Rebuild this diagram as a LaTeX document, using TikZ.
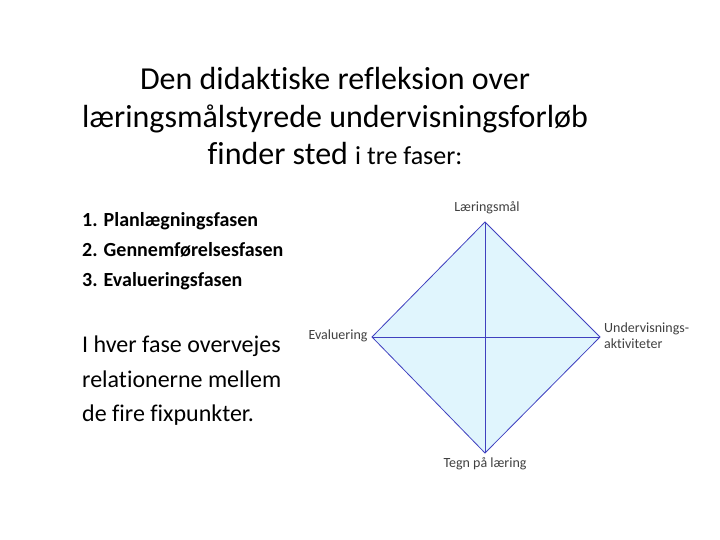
\documentclass[tikz,border=0pt]{standalone}
\usepackage{fontspec}
\setmainfont[Ligatures=NoCommon]{Carlito}
\begin{document}
\begin{tikzpicture}[x=1pt,y=-1pt,
  lbl/.style={font=\fontsize{14}{16}\selectfont,text=black!75,inner sep=0},
  ttl/.style={font=\fontsize{32}{36}\selectfont,inner sep=0,anchor=base},
  lst/.style={anchor=base west,inner sep=0}]
\useasboundingbox (0,0) rectangle (720,540);
\coordinate (T) at (485,222);
\coordinate (R) at (600,337);
\coordinate (B) at (485,453);
\coordinate (L) at (372,337);
\draw[fill=cyan!12!white,draw=blue!50!gray,line width=0.8pt] (T)--(R)--(B)--(L)--cycle;
\draw[blue!50!gray,line width=0.8pt] (T)--(B) (L)--(R);
\node[ttl] (t1) at (335,90) {Den didaktiske refleksion over};
\node[ttl] (t2) at (335,128) {læringsmålstyrede undervisningsforløb};
\node[ttl] (t3) at (335,165) {finder sted {\fontsize{26}{30}\selectfont i tre faser:}};
\node[lst,font=\bfseries\fontsize{20}{24}\selectfont] (l1) at (82,226) {1. Planlægningsfasen};
\node[lst,font=\bfseries\fontsize{20}{24}\selectfont] (l2) at (82,256) {2. Gennemførelsesfasen};
\node[lst,font=\bfseries\fontsize{20}{24}\selectfont] (l3) at (82,286) {3. Evalueringsfasen};
\node[lst,font=\fontsize{24}{28}\selectfont] (p1) at (82,352) {I hver fase overvejes};
\node[lst,font=\fontsize{24}{28}\selectfont] (p2) at (82,387) {relationerne mellem};
\node[lst,font=\fontsize{24}{28}\selectfont] (p3) at (82,421) {de fire fixpunkter.};
\node[lbl] (a) at (487,208) {Læringsmål};
\node[lbl,anchor=west,align=left] (b) at (604,336) {Undervisnings-\\aktiviteter};
\node[lbl] (c) at (338,336) {Evaluering};
\node[lbl] (d) at (485,464) {Tegn på læring};
\end{tikzpicture}
\end{document}
